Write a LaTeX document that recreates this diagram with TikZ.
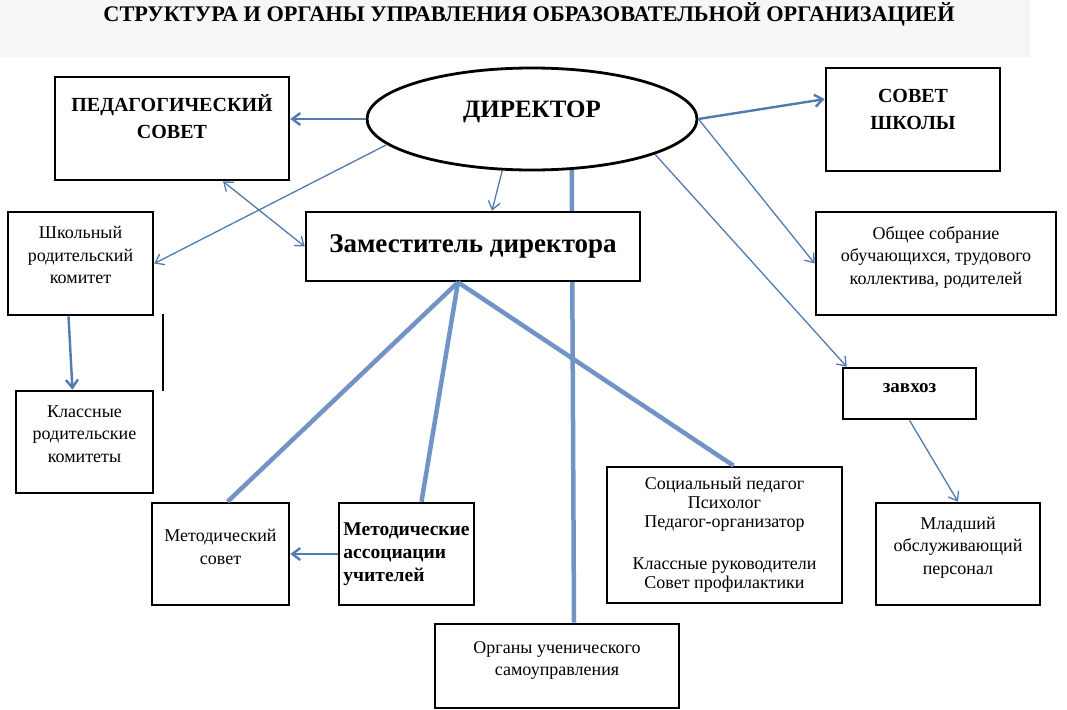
\documentclass[tikz,border=0pt]{standalone}
\usepackage{fontspec}
\setmainfont{Liberation Serif}
\usepackage{tikz}
\usetikzlibrary{positioning,shapes.geometric,arrows.meta,backgrounds}
\definecolor{linkblue}{RGB}{79,123,175}
\definecolor{barblue}{RGB}{114,148,196}
\definecolor{titlegray}{RGB}{245,247,247}

\begin{document}
\begin{tikzpicture}[%
		  x=1pt,y=-1pt,
		  box/.style={draw, line width=2.6pt, fill=white, align=center, inner sep=0pt},
		  small/.style={font=\fontsize{18}{22.5}\selectfont},
		  caps/.style={font=\fontsize{20}{27}\selectfont\bfseries},
		  arr/.style={draw=linkblue, line width=1.3pt, -{Straight Barb[length=8pt,width=12pt]}},
		  arrthick/.style={arr, line width=2.4pt},
		  bar/.style={draw=barblue, line width=4.5pt}]
		  \useasboundingbox (0,0) rectangle (1067,709);
		  \fill[titlegray] (0,0) rectangle (1030,57);
		  \node[font=\fontsize{22.3}{26}\selectfont\bfseries] (title) at (529,14)
		    {СТРУКТУРА И ОРГАНЫ УПРАВЛЕНИЯ ОБРАЗОВАТЕЛЬНОЙ ОРГАНИЗАЦИЕЙ};
		  \node[draw, ellipse, line width=2.8pt, fill=white, align=center, inner sep=0pt,
		    minimum width=330pt, minimum height=102pt,
		    font=\fontsize{25}{27}\selectfont\bfseries] (director) at (532,119) {ДИРЕКТОР\\[-15pt] \strut};
		  \node[box, caps, minimum width=234pt, minimum height=103pt] (pedsovet) at (172,128.5)
		    {ПЕДАГОГИЧЕСКИЙ\\ СОВЕТ\\[-12pt] \strut};
		  \node[box, caps, minimum width=174pt, minimum height=103pt] (sovet) at (913,119.5)
		    {СОВЕТ\\ ШКОЛЫ\\[-15pt] \strut};
		  \node[box, minimum width=334pt, minimum height=69pt,
		    font=\fontsize{27}{30}\selectfont\bfseries] (deputy) at (473,246.5) {Заместитель директора};
		  \node[box, small, minimum width=145pt, minimum height=103pt] (schoolparents) at (80.5,263.5)
		    {Школьный\\ родительский\\ комитет\\[-12.5pt] \strut};
		  \node[box, small, minimum width=240pt, minimum height=103pt] (assembly) at (936,263.5)
		    {Общее собрание\\ обучающихся, трудового\\ коллектива, родителей\\[-12.5pt] \strut};
		  \node[box, small, minimum width=137pt, minimum height=102pt] (classparents) at (84.5,442)
		    {Классные\\ родительские\\ комитеты\\[-12.5pt] \strut};
		  \node[box, minimum width=133pt, minimum height=51pt,
		    font=\fontsize{19}{20}\selectfont\bfseries] (supply) at (909.5,393.5) {завхоз\\[-16pt] \strut};
		  \node[box, small, minimum width=164pt, minimum height=102pt] (staff) at (958,554)
		    {Младший\\ обслуживающий\\ персонал\\[-12.5pt] \strut};
		  \node[box, minimum width=235pt, minimum height=136pt,
		    font=\fontsize{18}{19}\selectfont] (social) at (724.5,535)
		    {Социальный педагог\\ Психолог\\ Педагог-организатор\\[23pt] Классные руководители\\ Совет профилактики};
		  \node[box, small, minimum width=137pt, minimum height=102pt] (methcouncil) at (220.5,554)
		    {Методический\\ совет\\[-14.5pt] \strut};
		  \node[box, minimum width=135pt, minimum height=102pt, align=left,
		    font=\fontsize{19.5}{23}\selectfont\bfseries] (methassoc) at (406.5,554)
		    {Методические\\ ассоциации\\ учителей};
		  \node[box, small, minimum width=244pt, minimum height=84pt] (students) at (557,666)
		    {Органы ученического\\ самоуправления\\[-14pt] \strut};
		  \draw[line width=2.4pt] (163,314) -- (163,391);
		  \begin{scope}[on background layer]
		    \path[bar] (director.-52) -- ([xshift=17pt]students.north);
		  \end{scope}
		  \coordinate (deputyfoot) at ([xshift=-15pt]deputy.south);
		  \path[bar] (deputyfoot) -- ([xshift=7pt]methcouncil.north);
		  \path[bar] (deputyfoot) -- ([xshift=15pt]methassoc.north);
		  \path[bar] (deputyfoot) -- ([xshift=9pt]social.north);
		  \path[arrthick] (director.west) -- (pedsovet.east |- director.west);
		  \path[arrthick] (director.east) -- (sovet.167);
		  \path[arr] (director.190) -- (schoolparents.east);
		  \path[arr, {Straight Barb[length=8pt,width=12pt]}-{Straight Barb[length=8pt,width=12pt]}] (pedsovet.-46) -- (deputy.west);
		  \path[arr] (director.240) -- ([xshift=19pt]deputy.north);
		  \path[arr] (director.east) -- (assembly.west);
		  \path[arr] (director.-16) -- ([xshift=5pt]supply.north west);
		  \path[arr] (supply.south) -- (staff.north);
		  \path[arrthick] (methassoc.west) -- (methcouncil.east);
		  \path[arrthick] ([xshift=-12pt]schoolparents.south) -- ([xshift=-12pt]classparents.north);
		    \end{tikzpicture}
\end{document}
